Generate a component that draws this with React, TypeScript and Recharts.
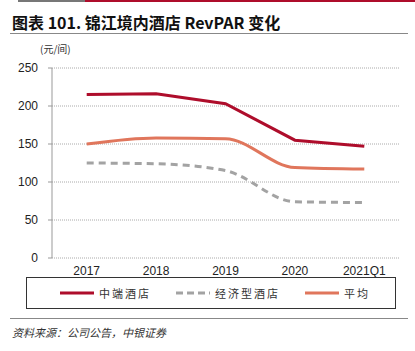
import { CartesianGrid, Line, LineChart, XAxis, YAxis } from "recharts";

const years = ["2017", "2018", "2019", "2020", "2021Q1"];
const midscale = [215, 216, 203, 155, 147];
const economy = [125, 124, 115, 74, 73];
const average = [150, 158, 157, 119, 117];
const yTicks = [0, 50, 100, 150, 200, 250];

const series = [
  { key: "mid", name: "中端酒店", color: "#AE0D2B", dash: undefined, type: "linear" },
  { key: "eco", name: "经济型酒店", color: "#A3A3A3", dash: "7 5", type: "monotone" },
  { key: "avg", name: "平均", color: "#E0765C", dash: undefined, type: "monotone" },
];

const rows = years.map((year, i) => ({
  year,
  mid: midscale[i],
  eco: economy[i],
  avg: average[i],
}));

const tickStyle = { fontFamily: "Liberation Sans, Arial", fontSize: 12, fill: "#222" };

export default function App() {
  return (
    <div style={{ position: "absolute", left: 0, top: 0, width: 415, height: 351, background: "#fff" }}>
      <div style={{ position: "absolute", left: 18, top: 0, width: 67, height: 2, background: "#777" }} />
      <div style={{ position: "absolute", left: 85, top: 0, width: 330, height: 2, background: "#AE0D2B" }} />
      <div
        style={{
          position: "absolute",
          left: 12,
          top: 10,
          fontFamily: "Noto Sans CJK SC, sans-serif",
          fontWeight: 700,
          fontSize: 16,
          color: "#111",
        }}
      >
        图表 101. 锦江境内酒店 RevPAR 变化
      </div>
      <div style={{ position: "absolute", left: 10, top: 33, width: 398, height: 1, background: "#888" }} />
      <div
        style={{
          position: "absolute",
          left: 40,
          top: 41,
          fontFamily: "Noto Sans CJK SC, sans-serif",
          fontSize: 10,
          color: "#333",
        }}
      >
        (元/间)
      </div>

      <LineChart
        width={415}
        height={351}
        data={rows}
        margin={{ top: 68, right: 16, bottom: 73, left: 0 }}
        style={{ position: "absolute", left: 0, top: 0 }}
      >
        <CartesianGrid horizontal vertical={false} stroke="#aaa" strokeDasharray="1 1" />
        <XAxis
          xAxisId="edge"
          type="number"
          domain={[0, years.length]}
          ticks={years.map((_, i) => i).concat(years.length)}
          height={0}
          tick={false}
          tickSize={4}
          stroke="#999"
        />
        <XAxis
          xAxisId="cat"
          dataKey="year"
          scale="band"
          height={20}
          axisLine={false}
          tickLine={false}
          tick={tickStyle}
          tickMargin={2}
          interval={0}
        />
        <YAxis
          width={52}
          domain={[0, 250]}
          ticks={yTicks}
          tickSize={4}
          tickMargin={10}
          stroke="#999"
          tick={tickStyle}
        />
        {series.map((s) => (
          <Line
            key={s.key}
            xAxisId="cat"
            dataKey={s.key}
            name={s.name}
            type={s.type as "linear" | "monotone"}
            stroke={s.color}
            strokeWidth={3}
            strokeDasharray={s.dash}
            dot={false}
            isAnimationActive={false}
          />
        ))}
      </LineChart>

      <div
        style={{
          position: "absolute",
          left: 26,
          top: 277,
          width: 370,
          height: 32,
          border: "1px solid #333",
          boxSizing: "border-box",
          fontFamily: "Noto Sans CJK SC, sans-serif",
          fontSize: 11,
          color: "#333",
        }}
      >
        {series.map((s, i) => (
          <div
            key={s.key}
            style={{
              position: "absolute",
              left: [33, 149, 278][i],
              top: 7,
              display: "flex",
              alignItems: "center",
              letterSpacing: 2,
            }}
          >
            <svg width={34} height={4} style={{ marginRight: 5 }}>
              <line x1={0} y1={2} x2={34} y2={2} stroke={s.color} strokeWidth={3} strokeDasharray={s.dash ? "7 4" : undefined} />
            </svg>
            {s.name}
          </div>
        ))}
      </div>

      <div style={{ position: "absolute", left: 10, top: 318, width: 398, height: 1, background: "#888" }} />
      <div
        style={{
          position: "absolute",
          left: 12,
          top: 324,
          fontFamily: "Noto Sans CJK SC, sans-serif",
          fontStyle: "italic",
          fontSize: 11,
          color: "#333",
        }}
      >
        资料来源：公司公告，中银证券
      </div>
    </div>
  );
}
